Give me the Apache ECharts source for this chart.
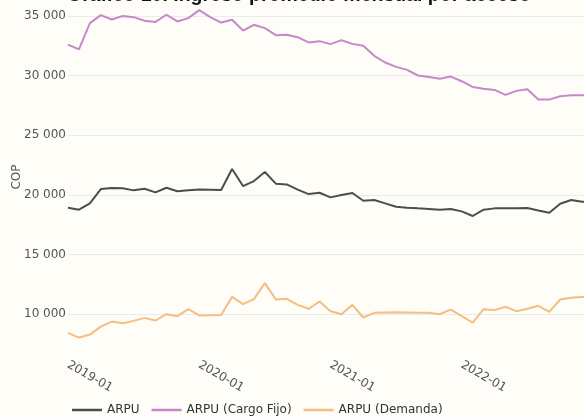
<!DOCTYPE html>
<html>
<head>
<meta charset="utf-8">
<script src="https://cdn.jsdelivr.net/npm/echarts@6/dist/echarts.min.js"></script>
<style>
  html, body { margin: 0; padding: 0; background: #fffdf7; overflow: hidden; }
  #main { width: 584px; height: 418px; }
</style>
</head>
<body>
<div id="main"></div>
<script>
// meses 2019-01 .. 2023-01
const months = [];
for (let y = 2019; y <= 2023; y++) {
  for (let m = 1; m <= 12; m++) {
    if (months.length < 49) months.push(y + "-" + String(m).padStart(2, "0"));
  }
}

const arpu = [
  18930, 18760, 19290, 20490, 20580, 20550, 20380, 20520, 20210, 20600, 20300, 20380,
  20460, 20440, 20410, 22170, 20740, 21160, 21920, 20940, 20880, 20440, 20070, 20180,
  19790, 19990, 20160, 19510, 19570, 19290, 19010, 18930, 18870, 18820, 18760, 18820,
  18620, 18230, 18760, 18870, 18870, 18870, 18900, 18700, 18510, 19260, 19570, 19430,
  19400
];

const arpuCargoFijo = [
  32600, 32200, 34400, 35070, 34700, 35000, 34900, 34600, 34500, 35100, 34540, 34820,
  35490, 34900, 34450, 34680, 33780, 34260, 33980, 33390, 33420, 33220, 32780, 32890,
  32640, 32970, 32660, 32500, 31660, 31100, 30730, 30480, 30010, 29890, 29730, 29920,
  29530, 29050, 28890, 28800, 28380, 28720, 28860, 27990, 27990, 28270, 28350, 28350,
  28350
];

const arpuDemanda = [
  8430, 8040, 8290, 8960, 9380, 9240, 9440, 9690, 9470, 10000, 9830, 10420,
  9890, 9920, 9940, 11450, 10840, 11260, 12600, 11230, 11290, 10780, 10450, 11060,
  10250, 10000, 10780, 9720, 10110, 10140, 10170, 10140, 10110, 10110, 10000, 10390,
  9830, 9300, 10420, 10340, 10620, 10250, 10450, 10700, 10200, 11230, 11370, 11430,
  11450
];

const font = "DejaVu Sans";

const chart = echarts.init(document.getElementById("main"));
chart.setOption({
  animation: false,
  backgroundColor: "#fffdf7",
  title: {
    text: "Gráfico 10. Ingreso promedio mensual por acceso",
    left: 62,
    top: -19,
    textStyle: { fontFamily: "Liberation Sans", fontWeight: "bold", fontSize: 19.5, color: "#111" }
  },
  legend: {
    left: 72,
    top: 404,
    icon: "rect",
    itemWidth: 30,
    itemHeight: 2.5,
    itemGap: 12,
    padding: 0,
    textStyle: { fontFamily: font, fontSize: 12, color: "#333" }
  },
  grid: { left: 68, right: -9, top: 10, bottom: 74, outerBoundsMode: "none" },
  xAxis: {
    type: "category",
    data: months,
    boundaryGap: false,
    axisLine: { show: false },
    axisTick: { show: false },
    axisLabel: {
      interval: 11,
      rotate: -30,
      margin: 20,
      fontFamily: font,
      fontSize: 12,
      color: "#555"
    }
  },
  yAxis: {
    type: "value",
    min: 7500,
    max: 35500,
    interval: 2500,
    name: "COP",
    nameLocation: "middle",
    nameGap: 45,
    nameMoveOverlap: false,
    nameTextStyle: { fontFamily: font, fontSize: 12, color: "#555" },
    axisLine: { show: false },
    axisTick: { show: false },
    axisLabel: {
      margin: 2,
      fontFamily: font,
      fontSize: 12,
      color: "#555",
      formatter: v => (v % 5000 === 0 ? String(v).replace(/\B(?=(\d{3})+(?!\d))/g, " ") : "")
    },
    splitLine: { lineStyle: { color: ["transparent", "#ebebeb"], width: 1 } }
  },
  series: [
    { name: "ARPU", type: "line", data: arpu, symbol: "none",
      lineStyle: { width: 2, color: "#4d4d4d" }, itemStyle: { color: "#4d4d4d" } },
    { name: "ARPU (Cargo Fijo)", type: "line", data: arpuCargoFijo, symbol: "none",
      lineStyle: { width: 2, color: "#c688ca" }, itemStyle: { color: "#c688ca" } },
    { name: "ARPU (Demanda)", type: "line", data: arpuDemanda, symbol: "none",
      lineStyle: { width: 2, color: "#f3be80" }, itemStyle: { color: "#f3be80" } }
  ]
});
</script>
</body>
</html>
